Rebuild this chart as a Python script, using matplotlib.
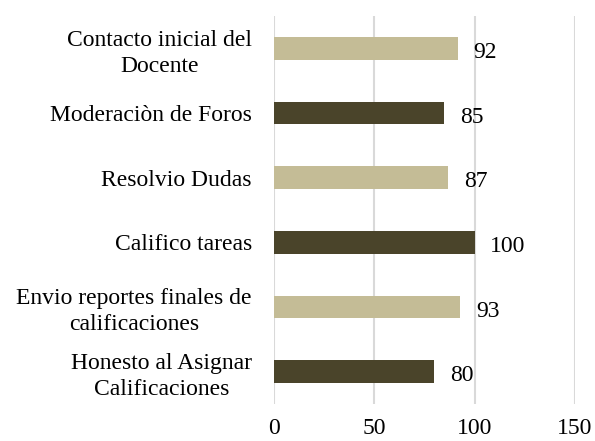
import matplotlib.pyplot as plt

categories = ["Contacto inicial del\nDocente", "Moderaciòn de Foros", "Resolvio Dudas",
              "Califico tareas", "Envio reportes finales de\ncalificaciones",
              "Honesto al Asignar\nCalificaciones"]
values = [92, 85, 87, 100, 93, 80]
colors = ["#c4bc96", "#4a442a", "#c4bc96", "#4a442a", "#c4bc96", "#4a442a"]

plt.rcParams['font.family'] = ['Liberation Serif', 'DejaVu Serif']

fig = plt.figure(figsize=(5.95, 4.41), dpi=100)
ax = fig.add_axes([0.4605, 0.084, 0.5055, 0.88])

pos = list(range(len(categories)))[::-1]
ax.barh(pos, values, height=0.35, color=colors, zorder=3)
for p, v in zip(pos, values):
    ax.annotate(str(v), (v, p), xytext=(11, -3), textcoords='offset points',
                va='center', ha='left', fontsize=17)

ax.set_xlim(0, 150)
ax.set_ylim(-0.5, 5.5)
ax.set_xticks([0, 50, 100, 150])
ax.set_yticks(pos)
ax.set_yticklabels(categories, fontsize=17, ha='right', multialignment='center',
                   linespacing=1.3)
ax.tick_params(axis='y', length=0, pad=16)
ax.tick_params(axis='x', length=0, pad=10, labelsize=17)
ax.grid(axis='x', color='#d9d9d9', linewidth=1.5, zorder=0)
for s in ax.spines.values():
    s.set_visible(False)

fig.savefig("out.png", dpi=100)
